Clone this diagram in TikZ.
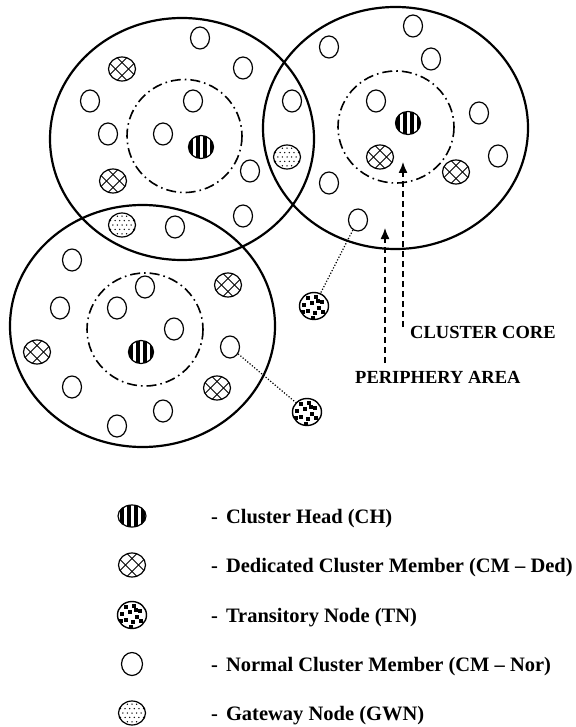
\documentclass[tikz,border=0pt]{standalone}
\usepackage{fontspec}
\setmainfont{Liberation Serif}
\usetikzlibrary{shapes.geometric,arrows.meta}
\tikzset{
  base/.style={draw, ellipse, fill=white, inner sep=0pt, line width=1.2pt},
  nor/.style={base, minimum width=19pt, minimum height=22pt},
  chn/.style={base, minimum width=25pt, minimum height=23pt, path picture={
      \foreach \dx in {-10.5,-3.5,3.5,10.5}
        \draw[black, line width=4pt] ([xshift=\dx pt]path picture bounding box.north) -- ([xshift=\dx pt]path picture bounding box.south);}},
  ded/.style={base, minimum width=27pt, minimum height=24pt, path picture={
      \begin{scope}[shift={(path picture bounding box.center)}]
        \foreach \d in {-6.5,6.5}{
          \draw[black, line width=0.8pt] (\d-16,-16) -- (\d+16,16);
          \draw[black, line width=0.8pt] (\d-16,16) -- (\d+16,-16);}
      \end{scope}}},
  gw/.style={base, minimum width=27pt, minimum height=24pt, path picture={
      \begin{scope}[shift={(path picture bounding box.center)}]
        \foreach \j in {-2,...,2}
          \foreach \i in {-3,...,3}
            \fill[black] ({\i*4.6+abs(mod(\j,2))*2.3}, \j*4.4) circle (0.75);
      \end{scope}}},
  tn/.style={base, minimum width=29pt, minimum height=27pt, line width=1.4pt, path picture={
      \begin{scope}[shift={(path picture bounding box.center)}]
        \foreach \x/\y in {-6/-8, 2/-9, 8/-4, -10/-1, -2/-3, 5/2, -6/5, 1/7, 9/6, -1/12, 4/-5, -11/6}
          \fill[black] (\x-1.7,\y-1.7) rectangle ++(3.4,3.4);
      \end{scope}}},
  cluster/.style={line width=2.2pt},
  core/.style={line width=1.6pt, dash pattern=on 10pt off 4pt on 1.6pt off 4pt},
  pointer/.style={line width=1.3pt, dash pattern=on 6pt off 4pt, -{Latex[length=11pt,width=9pt]}},
  link/.style={line width=1.2pt, dash pattern=on 1.2pt off 1.8pt},
  lab/.style={inner sep=0pt, font=\bfseries\fontsize{18.5}{20}\selectfont},
  legtext/.style={inner sep=0pt, font=\bfseries\fontsize{20.5}{23}\selectfont},
}
\begin{document}
\begin{tikzpicture}[x=1pt,y=-1pt]
\useasboundingbox (0,0) rectangle (575,727);
% clusters
\draw[cluster] (182,139) ellipse [x radius=132, y radius=121];
\draw[cluster] (395.5,128) ellipse [x radius=132.5, y radius=121];
\draw[cluster] (142.5,326) ellipse [x radius=132.5, y radius=121];
% cores
\draw[core] (184.5,136) ellipse [x radius=57.5, y radius=56.5];
\draw[core] (396,127) ellipse [x radius=58, y radius=56];
\draw[core] (145,329.5) ellipse [x radius=58, y radius=56.5];
% cluster 1
\node[nor] (a1) at (200,38) {};
\node[nor] (a2) at (243,68) {};
\node[ded] (a3) at (122,69) {};
\node[nor] (a4) at (90,101) {};
\node[nor] (a5) at (193,101) {};
\node[nor] (a6) at (108,134) {};
\node[nor] (a7) at (163,134) {};
\node[chn] (a8) at (201,147) {};
\node[nor] (a9) at (250,171) {};
\node[ded] (a10) at (113,181) {};
\node[nor] (a11) at (243,216) {};
\node[gw] (a12) at (122,225) {};
\node[nor] (a13) at (175,227) {};
\node[gw] (a14) at (287,157) {};
\node[nor] (a15) at (292,101) {};
% cluster 2
\node[nor] (b1) at (413,26) {};
\node[nor] (b2) at (329,47) {};
\node[nor] (b3) at (431,59) {};
\node[nor] (b4) at (376,101) {};
\node[chn] (b5) at (408,123) {};
\node[nor] (b6) at (479,113) {};
\node[ded] (b7) at (380,157) {};
\node[nor] (b8) at (498,156) {};
\node[ded] (b9) at (456,172) {};
\node[nor] (b10) at (329,183) {};
\node[nor] (b11) at (358,220) {};
% cluster 3
\node[nor] (c1) at (72,260) {};
\node[nor] (c2) at (145,287) {};
\node[ded] (c3) at (228,285) {};
\node[nor] (c4) at (60,308) {};
\node[nor] (c5) at (117,308) {};
\node[nor] (c6) at (174,329) {};
\node[chn] (c7) at (141,352) {};
\node[ded] (c8) at (37,352) {};
\node[nor] (c9) at (230,347) {};
\node[ded] (c10) at (217,388) {};
\node[nor] (c11) at (72,387) {};
\node[nor] (c12) at (163,411) {};
\node[nor] (c13) at (117,426) {};
% transitory nodes
\node[tn] (t1) at (314,306) {};
\node[tn] (t2) at (307,412) {};
\draw[link] (b11) -- (t1);
\draw[link] (c9) -- (t2);
% pointers
\coordinate (coreTail) at (403,327);
\coordinate (coreTip) at (403,162);
\coordinate (periTail) at (385,363);
\coordinate (periTip) at (385,228);
\draw[pointer] (coreTail) -- (coreTip);
\draw[pointer] (periTail) -- (periTip);
\node[lab, anchor=base west] (corelab) at (410,338) {CLUSTER CORE};
\node[lab, anchor=base west] (perilab) at (355,383) {PERIPHERY AREA};
% legend
\node[chn, minimum width=28pt, minimum height=22pt] (l1) at (132,516) {};
\node[ded] (l2) at (132,565) {};
\node[tn] (l3) at (132,615) {};
\node[nor, minimum width=21pt, minimum height=23pt] (l4) at (132,664) {};
\node[gw] (l5) at (132,713) {};
\node[legtext, anchor=base west] (t1l) at (211,523) {-\hspace{8pt}Cluster Head (CH)};
\node[legtext, anchor=base west] (t2l) at (211,572) {-\hspace{8pt}Dedicated Cluster Member (CM – Ded)};
\node[legtext, anchor=base west] (t3l) at (211,622) {-\hspace{8pt}Transitory Node (TN)};
\node[legtext, anchor=base west] (t4l) at (211,671) {-\hspace{8pt}Normal Cluster Member (CM – Nor)};
\node[legtext, anchor=base west] (t5l) at (211,720) {-\hspace{8pt}Gateway Node (GWN)};
\end{tikzpicture}
\end{document}
